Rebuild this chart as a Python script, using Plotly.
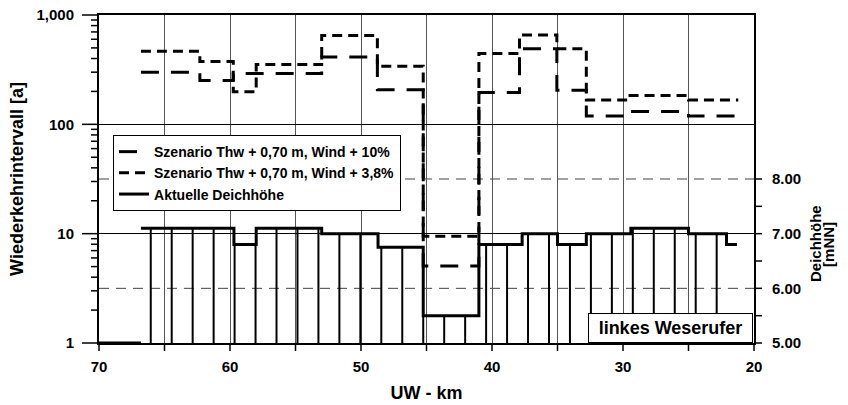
import math
import plotly.graph_objects as go

# ---------------- data ----------------
# Scenario return intervals (left log axis), step segments along UW-km
scen_km = [66.8, 62.3, 59.75, 58.0, 53.0, 48.75, 45.25, 41.0, 37.9, 35.05, 32.8, 29.6, 25.0, 21.2]
wind10 = [300, 252, 292, 292, 412, 207, 5.05, 195, 491, 205, 119, 131, 119]
wind38 = [467, 375, 199, 352, 650, 339, 9.45, 445, 655, 491, 167, 184, 167]

# Current dike height (right axis, mNN), step segments
deich_km = [70.0, 66.8, 59.7, 58.0, 53.0, 48.7, 45.25, 41.0, 37.7, 35.0, 32.8, 29.4, 25.0, 22.1, 21.3]
deich_h = [5.0, 7.1, 6.8, 7.1, 7.0, 6.75, 5.5, 6.8, 7.0, 6.8, 7.0, 7.1, 7.0, 6.8]

# Stations where the hatching verticals are drawn
stations = [66.05, 64.45, 62.85, 61.25, 59.65, 58.05, 56.45, 54.85, 53.25, 51.65,
            50.05, 48.45, 46.85, 45.25, 43.65, 42.05, 40.45, 38.85, 37.25, 35.65,
            34.05, 32.45, 30.85, 29.25, 27.65, 26.05, 24.45, 22.85]

x_range = [70, 20]
x_ticks = [70, 65, 60, 55, 50, 45, 40, 35, 30, 25, 20]
x_ticktext = ["70", "", "60", "", "50", "", "40", "", "30", "", "20"]
y_range_log = [0, 3]
y_ticks = [1, 10, 100, 1000]
y_ticktext = ["1", "10", "100", "1,000"]
y_minor = [2, 3, 4, 5, 6, 7, 8, 9, 20, 30, 40, 50, 60, 70, 80, 90,
           200, 300, 400, 500, 600, 700, 800, 900]
y2_range = [5, 11]
y2_ticks = [5, 5.5, 6, 6.5, 7, 7.5, 8]
y2_ticktext = ["5.00", "", "6.00", "", "7.00", "", "8.00"]
y2_dashed_levels = [6, 8]

FONT = "Liberation Sans, Arial, sans-serif"
W, H = 848, 405
ML, MR, MT, MB = 99, 94, 15, 62
PW, PH = W - ML - MR, H - MT - MB


def step_xy(xs, vals):
    return list(xs), list(vals) + [vals[-1]]


def deich_at(s):
    for i in range(len(deich_h)):
        if deich_km[i] >= s > deich_km[i + 1]:
            return deich_h[i]
    return deich_h[-1]


fig = go.Figure()

# hatching verticals (right axis)
hx, hy = [], []
for s in stations:
    hx += [s, s, None]
    hy += [5.0, deich_at(s), None]
fig.add_trace(go.Scatter(x=hx, y=hy, mode="lines", yaxis="y2",
                         line=dict(color="black", width=2),
                         showlegend=False, hoverinfo="skip"))

# scenario lines (left log axis)
x10, y10 = step_xy(scen_km, wind10)
fig.add_trace(go.Scatter(x=x10, y=y10, mode="lines", line_shape="hv",
                         name="Szenario Thw + 0,70 m, Wind + 10%",
                         line=dict(color="black", width=3, dash="18px,12px"),
                         legendrank=1))
x38, y38 = step_xy(scen_km, wind38)
fig.add_trace(go.Scatter(x=x38, y=y38, mode="lines", line_shape="hv",
                         name="Szenario Thw + 0,70 m, Wind + 3,8%",
                         line=dict(color="black", width=3, dash="10px,6px"),
                         legendrank=2))

# current dike height step line; no vertical where value leaves the 5.00 baseline
dx = [deich_km[0], deich_km[1], None]
dy = [deich_h[0], deich_h[0], None]
dx2, dy2 = step_xy(deich_km[1:], deich_h[1:])
fig.add_trace(go.Scatter(x=dx + dx2, y=dy + dy2, mode="lines", line_shape="hv",
                         yaxis="y2", name="Aktuelle Deichhöhe",
                         line=dict(color="black", width=3), legendrank=3))

for lv in y2_dashed_levels:
    fig.add_shape(type="line", xref="paper", x0=0, x1=1, yref="y2", y0=lv, y1=lv,
                  line=dict(color="#444444", width=1, dash="10px,7px"), layer="below")

# ---- tick marks drawn as shapes (outside the plot area) ----
tick_line = dict(color="black", width=1.5)


def xfrac(v):
    return (v - x_range[0]) / (x_range[1] - x_range[0])


def yfrac(v):
    return (math.log10(v) - y_range_log[0]) / (y_range_log[1] - y_range_log[0])


def y2frac(v):
    return (v - y2_range[0]) / (y2_range[1] - y2_range[0])


for v in x_ticks:
    fig.add_shape(type="line", xref="paper", yref="paper", x0=xfrac(v), x1=xfrac(v),
                  y0=0, y1=-8 / PH, line=tick_line, layer="above")
for v in y_ticks:
    fig.add_shape(type="line", xref="paper", yref="paper", x0=0, x1=-17 / PW,
                  y0=yfrac(v), y1=yfrac(v), line=tick_line, layer="above")
for v in y_minor:
    fig.add_shape(type="line", xref="paper", yref="paper", x0=0, x1=-8 / PW,
                  y0=yfrac(v), y1=yfrac(v), line=tick_line, layer="above")
for v in y2_ticks:
    fig.add_shape(type="line", xref="paper", yref="paper", x0=1, x1=1 + 8 / PW,
                  y0=y2frac(v), y1=y2frac(v), line=tick_line, layer="above")

tickfont = dict(family=FONT, size=15, color="black", weight="bold")
titlefont = dict(family=FONT, size=18, color="black", weight="bold")

fig.update_layout(
    width=W, height=H,
    margin=dict(l=ML, r=MR, t=MT, b=MB, autoexpand=False),
    paper_bgcolor="white", plot_bgcolor="white",
    font=dict(family=FONT, color="black"),
    xaxis=dict(range=x_range, tickmode="array", tickvals=x_ticks, ticktext=x_ticktext,
               ticks="", tickfont=tickfont, ticklabelstandoff=9, automargin=False,
               showline=True, linewidth=2, linecolor="black", mirror=True,
               showgrid=True, gridcolor="#555555", gridwidth=1, zeroline=False,
               title=dict(text="UW - km", standoff=12, font=titlefont)),
    yaxis=dict(type="log", range=y_range_log, tickmode="array", tickvals=y_ticks,
               ticktext=y_ticktext, ticks="", tickfont=tickfont,
               ticklabelstandoff=20, automargin=False,
               showline=True, linewidth=2, linecolor="black",
               showgrid=True, gridcolor="black", gridwidth=1, zeroline=False,
               title=dict(text="Wiederkehrintervall [a]", standoff=8, font=titlefont)),
    yaxis2=dict(overlaying="y", side="right", range=y2_range, tickmode="array",
                tickvals=y2_ticks, ticktext=y2_ticktext, ticks="", tickfont=tickfont,
                ticklabelstandoff=13, automargin=False,
                showline=True, linewidth=2, linecolor="black", showgrid=False,
                zeroline=False),
    legend=dict(x=0.0214, y=0.634, xanchor="left", yanchor="top",
                bgcolor="white", bordercolor="black", borderwidth=1,
                font=dict(family=FONT, size=14, color="black", weight="bold"),
                tracegroupgap=0),
    annotations=[
        dict(text="linkes Weserufer", xref="paper", yref="paper",
             x=0.998, y=0.0, xanchor="right", yanchor="bottom",
             showarrow=False, bgcolor="white", bordercolor="black",
             borderwidth=1, borderpad=4, width=155,
             font=dict(family=FONT, size=18, color="black", weight="bold")),
        dict(text="Deichhöhe", xref="paper", yref="paper", x=1.0947, y=0.302,
             xanchor="center", yanchor="middle", textangle=-90, showarrow=False,
             font=dict(family=FONT, size=15, color="black", weight="bold")),
        dict(text="[mNN]", xref="paper", yref="paper", x=1.1145, y=0.302,
             xanchor="center", yanchor="middle", textangle=-90, showarrow=False,
             font=dict(family=FONT, size=15, color="black", weight="bold")),
    ],
)

fig.write_html("out.html")
